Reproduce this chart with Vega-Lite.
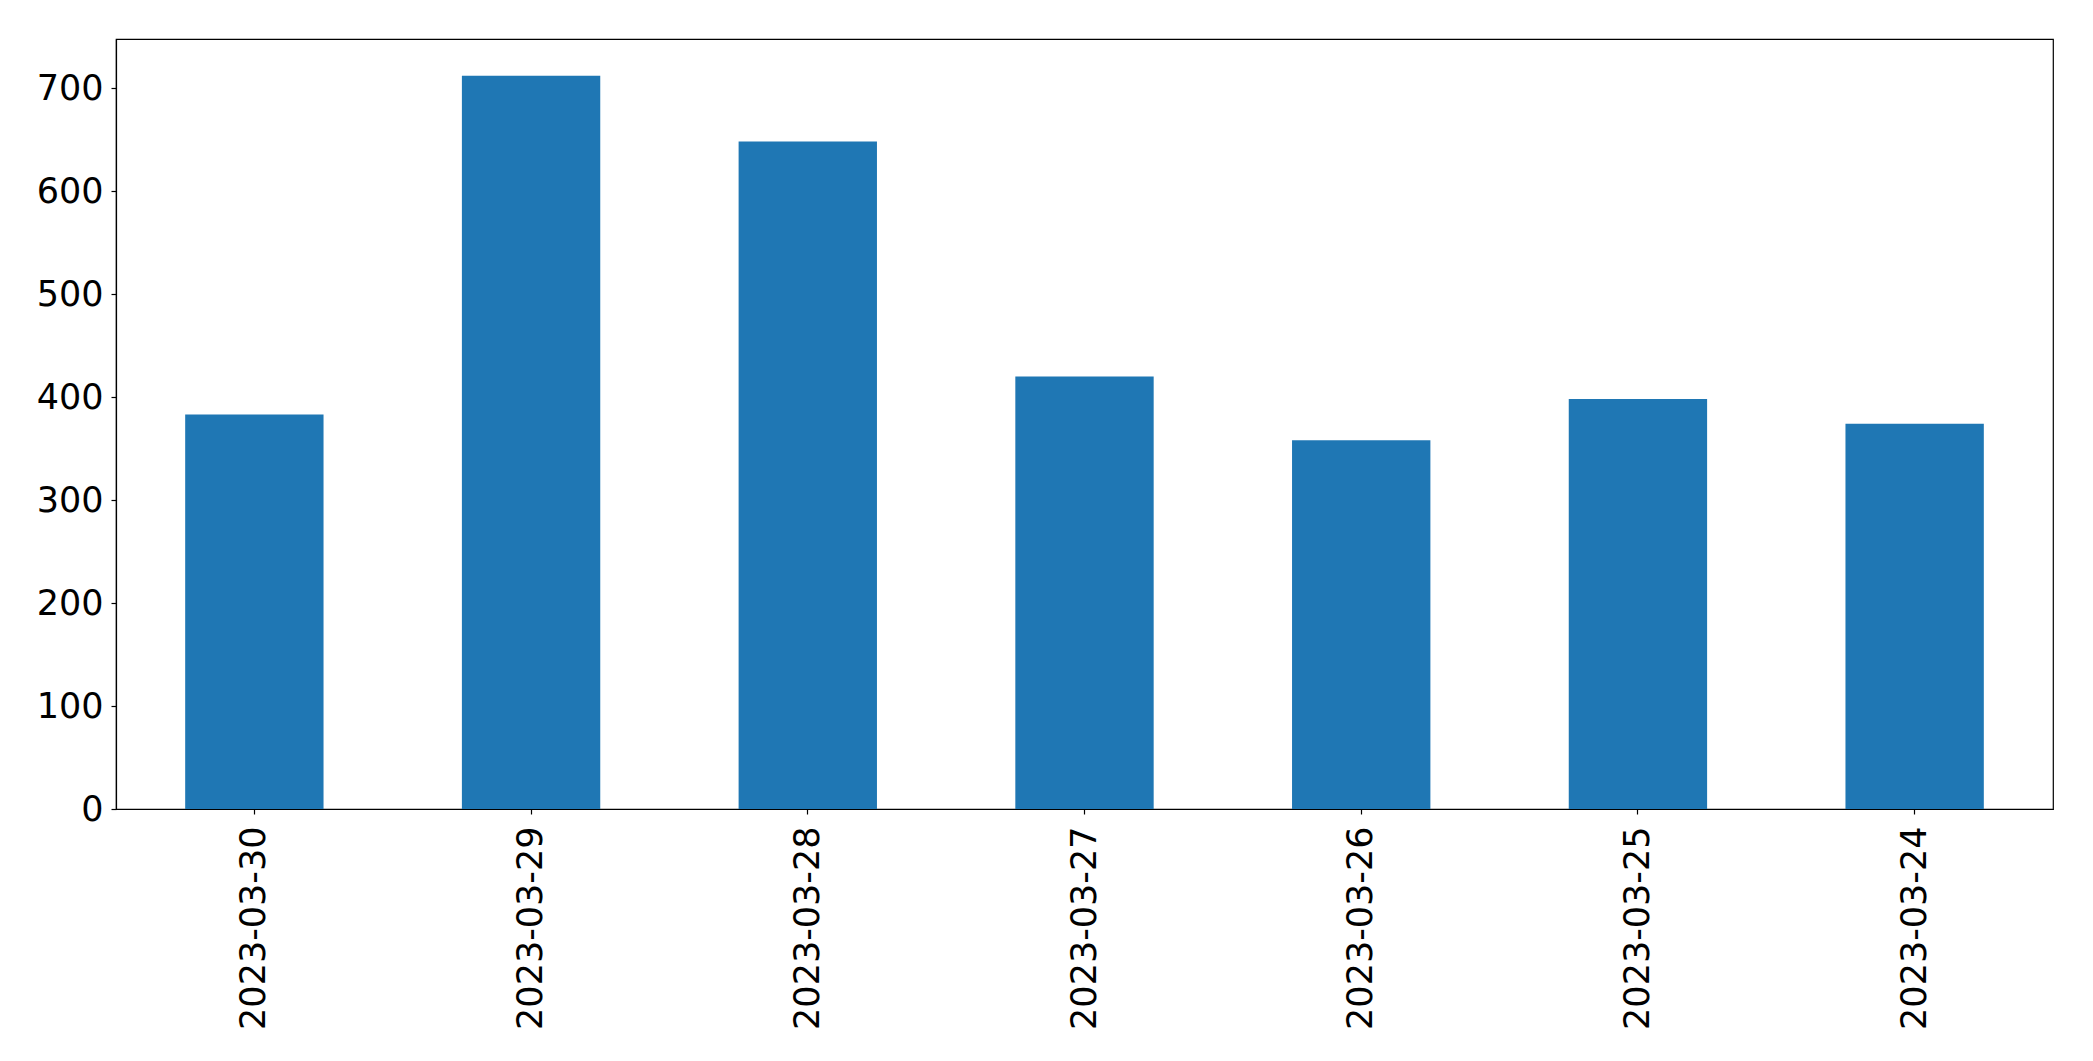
{
  "$schema": "https://vega.github.io/schema/vega-lite/v6.json",
  "width": 1937,
  "height": 770,
  "autosize": {"type": "none"},
  "padding": {"left": 116, "top": 39, "right": 40, "bottom": 252},
  "background": "white",
  "config": {
    "view": {"stroke": "black", "strokeWidth": 1.2},
    "font": "DejaVu Sans",
    "axis": {
      "labelFont": "DejaVu Sans",
      "labelFontSize": 35,
      "labelColor": "black",
      "labelLimit": 0,
      "tickColor": "black",
      "tickSize": 5,
      "tickWidth": 1.2,
      "domainColor": "black",
      "domainWidth": 1.2,
      "grid": false,
      "title": null
    }
  },
  "data": {
    "values": [
      {"date": "2023-03-30", "count": 383},
      {"date": "2023-03-29", "count": 712},
      {"date": "2023-03-28", "count": 648},
      {"date": "2023-03-27", "count": 420},
      {"date": "2023-03-26", "count": 358},
      {"date": "2023-03-25", "count": 398},
      {"date": "2023-03-24", "count": 374}
    ]
  },
  "mark": {"type": "bar", "color": "#1f77b4"},
  "encoding": {
    "x": {
      "field": "date",
      "type": "nominal",
      "sort": null,
      "scale": {"paddingInner": 0.5, "paddingOuter": 0.25},
      "axis": {"labelAngle": -90, "labelAlign": "right", "labelBaseline": "middle", "labelPadding": 12}
    },
    "y": {
      "field": "count",
      "type": "quantitative",
      "scale": {"domain": [0, 747.6], "nice": false},
      "axis": {"values": [0, 100, 200, 300, 400, 500, 600, 700], "labelPadding": 8}
    }
  }
}
